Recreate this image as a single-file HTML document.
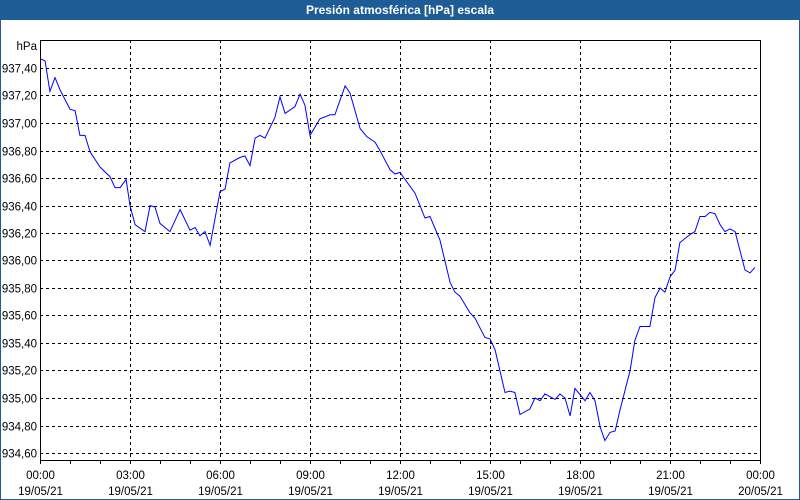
<!DOCTYPE html>
<html><head><meta charset="utf-8"><style>
body{margin:0;background:#fff;}
#wrap{position:relative;width:800px;height:500px;overflow:hidden;font-family:"Liberation Sans",sans-serif;}
#title{position:absolute;left:0;top:0;width:800px;height:20px;background:#1d5c94;color:#fff;font-weight:bold;font-size:12px;text-align:center;line-height:20px;}
</style></head><body>
<div id="wrap">
<div id="title">Presión atmosférica [hPa] escala</div>
<svg id="chart" width="800" height="500" style="position:absolute;left:0;top:0"></svg>
</div>
<script>
const hours=[0,0.17,0.33,0.5,0.67,1.0,1.17,1.33,1.5,1.67,2.0,2.33,2.5,2.67,2.87,3.0,3.17,3.5,3.67,3.83,4.0,4.33,4.67,5.0,5.17,5.33,5.5,5.67,6.0,6.17,6.33,6.67,6.83,7.0,7.17,7.33,7.5,7.83,8.0,8.17,8.5,8.67,8.83,9.0,9.33,9.67,9.83,10.17,10.33,10.67,10.9,11.17,11.33,11.67,11.83,12.0,12.5,12.83,13.0,13.33,13.67,13.83,14.0,14.33,14.5,14.83,15.0,15.17,15.5,15.67,15.83,16.0,16.33,16.5,16.67,16.83,17.17,17.33,17.5,17.67,17.83,18.17,18.33,18.5,18.67,18.83,19.0,19.17,19.33,19.67,19.83,20.0,20.33,20.5,20.67,20.83,21.0,21.17,21.33,21.67,21.83,22.0,22.17,22.33,22.5,22.67,22.83,23.0,23.17,23.5,23.67,23.83];
const pressure=[937.47,937.45,937.23,937.33,937.24,937.10,937.09,936.91,936.91,936.79,936.68,936.61,936.53,936.53,936.59,936.40,936.26,936.21,936.40,936.39,936.27,936.21,936.37,936.22,936.24,936.18,936.21,936.11,936.50,936.52,936.71,936.75,936.76,936.69,936.89,936.91,936.89,937.04,937.19,937.07,937.12,937.21,937.13,936.91,937.03,937.06,937.06,937.27,937.22,936.96,936.90,936.86,936.80,936.66,936.63,936.64,936.49,936.31,936.32,936.15,935.84,935.77,935.74,935.62,935.58,935.44,935.43,935.35,935.04,935.05,935.04,934.88,934.92,935.00,934.98,935.03,934.99,935.03,935.00,934.87,935.07,934.98,935.04,934.98,934.79,934.69,934.75,934.76,934.91,935.20,935.42,935.52,935.52,935.73,935.80,935.77,935.88,935.93,936.13,936.19,936.21,936.32,936.32,936.35,936.34,936.26,936.21,936.23,936.21,935.93,935.91,935.95];
const yTicks=[934.6,934.8,935.0,935.2,935.4,935.6,935.8,936.0,936.2,936.4,936.6,936.8,937.0,937.2,937.4];
const xTickHours=[0,3,6,9,12,15,18,21,24];
const xTickTimes=["00:00","03:00","06:00","09:00","12:00","15:00","18:00","21:00","00:00"];
const xTickDates=["19/05/21","19/05/21","19/05/21","19/05/21","19/05/21","19/05/21","19/05/21","19/05/21","20/05/21"];

const L=40,R=760,T=40,B=460;
const xs=h=>L+(h/24)*(R-L);
const ys=v=>68+(937.4-v)/0.2*27.5;
const svg=document.getElementById('chart');
const NS='http://www.w3.org/2000/svg';
function mk(tag,attrs){const e=document.createElementNS(NS,tag);for(const k in attrs)e.setAttribute(k,attrs[k]);svg.appendChild(e);return e;}
// window border
let wb=mk('rect',{x:0.5,y:0.5,width:799,height:499,fill:'none',stroke:'#1d5c94','stroke-width':1});


// y grid + labels
yTicks.forEach(v=>{
 const y=Math.round(ys(v))+0.5;
 const g=mk('line',{x1:L,x2:R,y1:y,y2:y,stroke:'#000','stroke-dasharray':'3,3'});
 
 
 const t=mk('text',{x:37,y:y+4,'text-anchor':'end','font-size':'11.5',fill:'#000','font-family':'Liberation Sans,sans-serif'});
 t.textContent=v.toFixed(2).replace('.',',');
 
 
});
const u=mk('text',{x:37,y:50,'text-anchor':'end','font-size':'11.5',fill:'#000','font-family':'Liberation Sans,sans-serif'});
u.textContent='hPa';


// minor ticks
for(let h=0;h<=24;h++){
 const x=Math.round(xs(h))+0.5;
 const m=mk('line',{x1:x,x2:x,y1:B,y2:B+4,stroke:'#000'});
 
 
}
xTickHours.forEach((h,i)=>{
 const x=Math.round(xs(h))+0.5;
 if(h>0&&h<24){
  const g=mk('line',{x1:x,x2:x,y1:T,y2:B,stroke:'#000','stroke-dasharray':'3,3'});
  
  
 }
 const t1=mk('text',{x:x,y:479,'text-anchor':'middle','font-size':'11.5',fill:'#000','font-family':'Liberation Sans,sans-serif'});
 t1.textContent=xTickTimes[i];
 
 
 const t2=mk('text',{x:x,y:495,'text-anchor':'middle','font-size':'11.5',fill:'#000','font-family':'Liberation Sans,sans-serif'});
 t2.textContent=xTickDates[i];
 
 
});
const fr=mk('rect',{x:L+0.5,y:T+0.5,width:R-L,height:B-T,fill:'none',stroke:'#000'});


const pts=hours.map((h,i)=>xs(h).toFixed(1)+','+ys(pressure[i]).toFixed(1)).join(' ');
const pl=mk('polyline',{points:pts,fill:'none',stroke:'#0000ff','stroke-width':1});


</script>
</body></html>
